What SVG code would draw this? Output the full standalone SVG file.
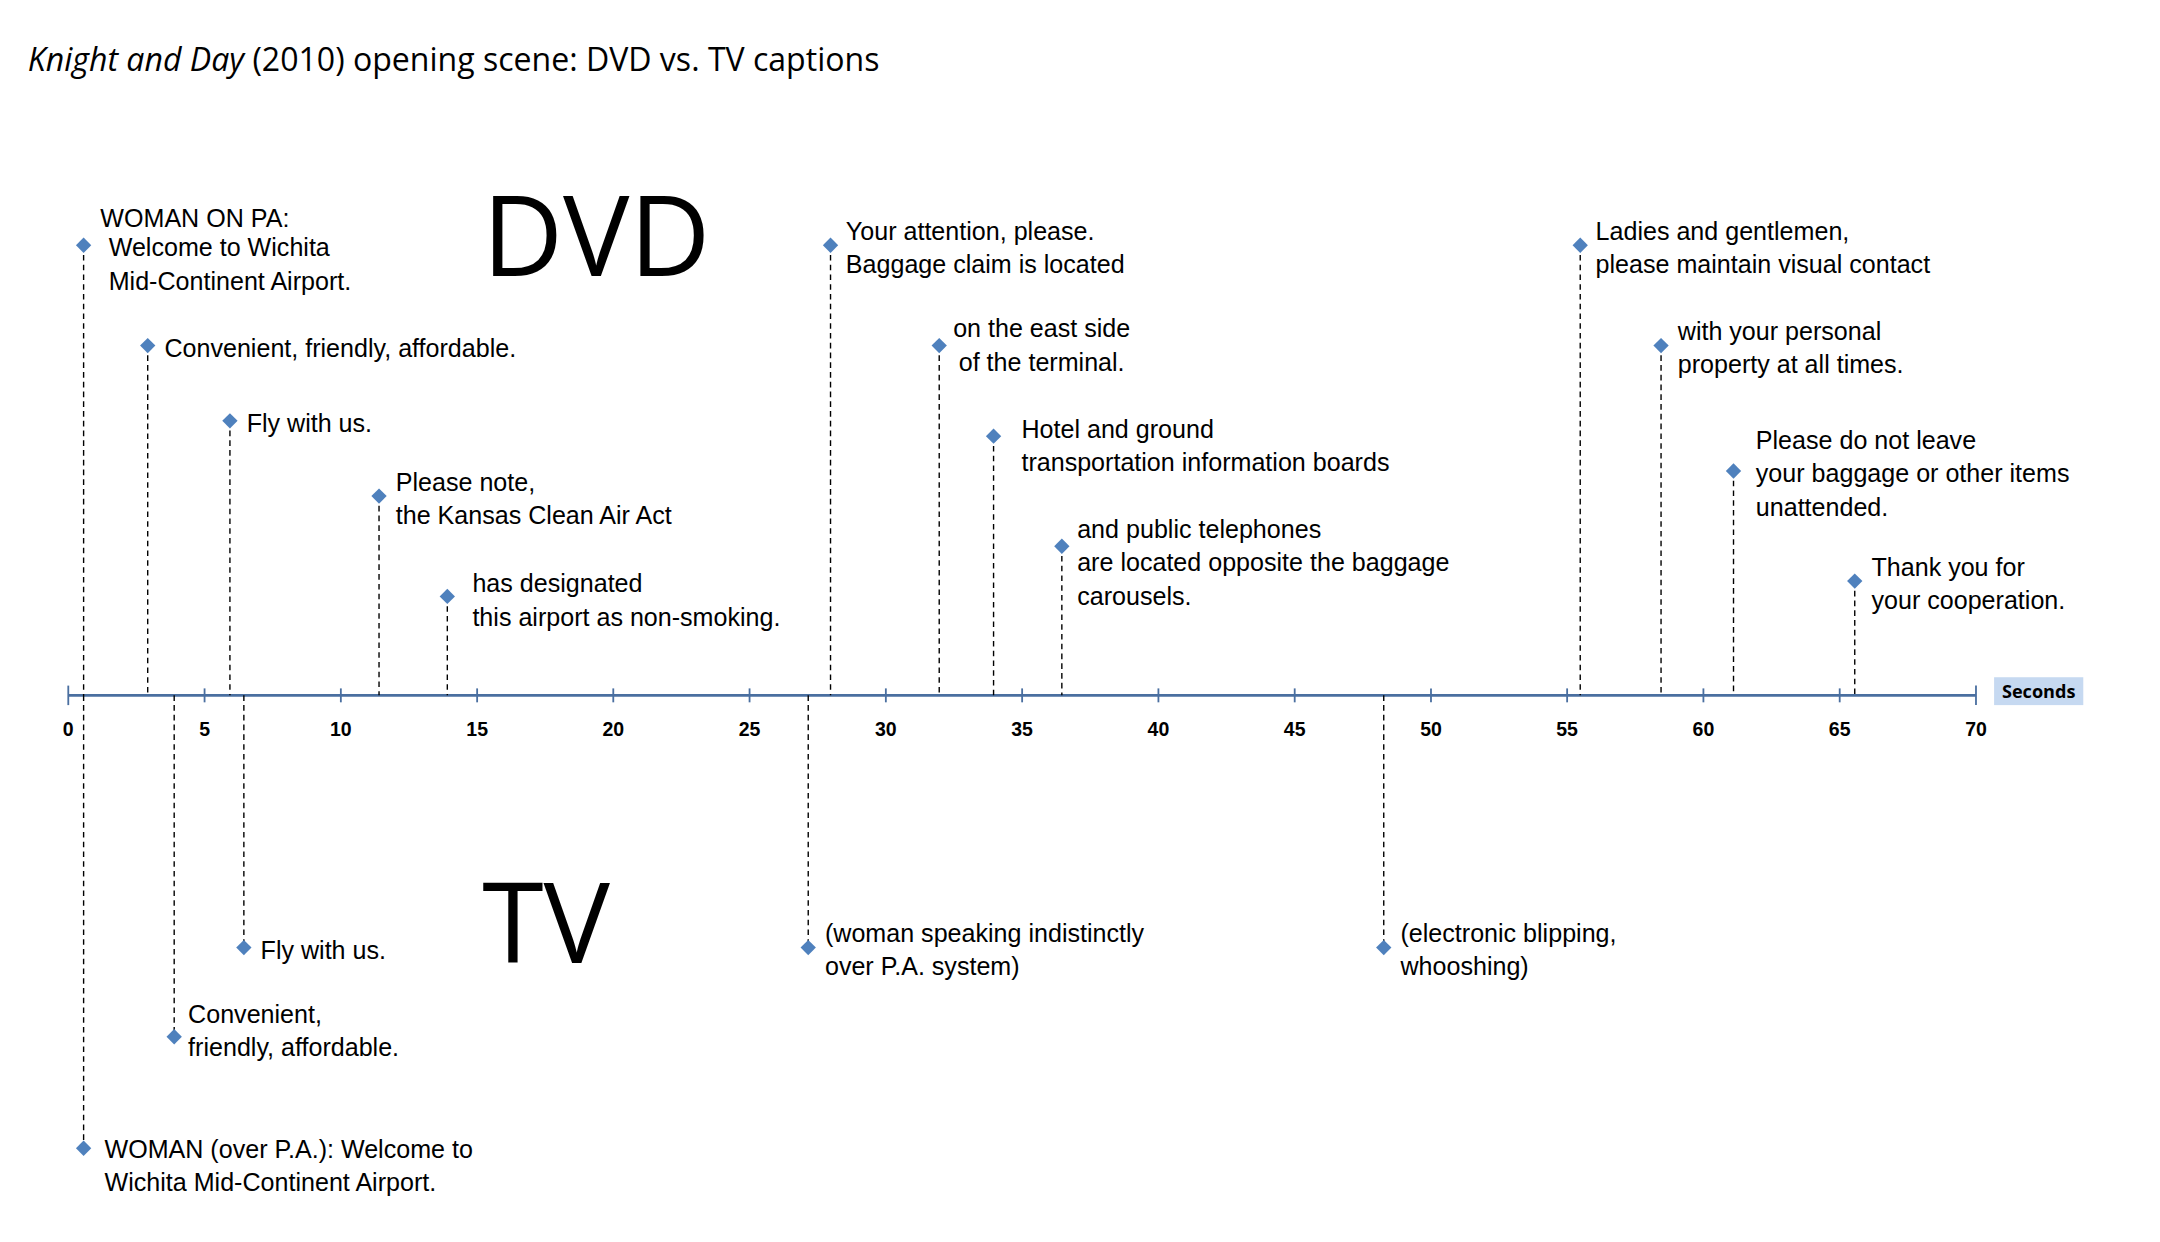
<svg xmlns="http://www.w3.org/2000/svg" width="2160" height="1242" viewBox="0 0 2160 1242">
<defs>
<style>
.t{font-family:"Liberation Sans",Arial,sans-serif;font-size:18px;fill:#000}
.n{font-family:"Liberation Sans",Arial,sans-serif;font-size:14px;font-weight:bold;fill:#000;text-anchor:middle}
.big{font-family:"Open Sans","Liberation Sans",sans-serif;font-size:80px;fill:#000}
.d{stroke:#000;stroke-width:1;stroke-dasharray:4,3;fill:none}
.tk{stroke:#4a6fa0;stroke-width:1.3}
</style>
<path id="dm" d="M0,-5.5L5.5,0L0,5.5L-5.5,0Z" fill="#4f81bd"/>
</defs>
<rect width="2160" height="1242" fill="#fff"/>
<g transform="scale(1.3935)">
<text x="20" y="51" font-family="'Open Sans','Liberation Sans',sans-serif" font-size="23"><tspan font-style="italic">Knight and Day</tspan> (2010) opening scene: DVD vs. TV captions</text>
<text class="big" x="346" y="198">DVD</text>
<text class="big" x="346" y="691">TV</text>
<g id="axis">
<line x1="49" y1="499" x2="1418" y2="499" stroke="#4a6fa0" stroke-width="2"/>
<g class="tk">
<line x1="49" y1="492" x2="49" y2="506"/><line x1="1418" y1="492" x2="1418" y2="506"/>
<line x1="146.8" y1="494" x2="146.8" y2="504"/><line x1="244.6" y1="494" x2="244.6" y2="504"/><line x1="342.4" y1="494" x2="342.4" y2="504"/><line x1="440.1" y1="494" x2="440.1" y2="504"/><line x1="537.9" y1="494" x2="537.9" y2="504"/><line x1="635.7" y1="494" x2="635.7" y2="504"/><line x1="733.5" y1="494" x2="733.5" y2="504"/><line x1="831.3" y1="494" x2="831.3" y2="504"/><line x1="929.1" y1="494" x2="929.1" y2="504"/><line x1="1026.9" y1="494" x2="1026.9" y2="504"/><line x1="1124.6" y1="494" x2="1124.6" y2="504"/><line x1="1222.4" y1="494" x2="1222.4" y2="504"/><line x1="1320.2" y1="494" x2="1320.2" y2="504"/>
</g>
<g>
<text class="n" x="49" y="528">0</text><text class="n" x="146.8" y="528">5</text><text class="n" x="244.6" y="528">10</text><text class="n" x="342.4" y="528">15</text><text class="n" x="440.1" y="528">20</text><text class="n" x="537.9" y="528">25</text><text class="n" x="635.7" y="528">30</text><text class="n" x="733.5" y="528">35</text><text class="n" x="831.3" y="528">40</text><text class="n" x="929.1" y="528">45</text><text class="n" x="1026.9" y="528">50</text><text class="n" x="1124.6" y="528">55</text><text class="n" x="1222.4" y="528">60</text><text class="n" x="1320.2" y="528">65</text><text class="n" x="1418" y="528">70</text>
</g>
<rect x="1431" y="486" width="64" height="20" fill="#c6d9f1"/>
<text x="1463" y="501" font-family="'Open Sans','Liberation Sans',sans-serif" font-size="13" font-weight="bold" text-anchor="middle">Seconds</text>
</g>
<g id="connectors">
<path class="d" d="M60,176V499M106,248V499M165,302V499M272,356V499M321,428V499M596,176V499M674,248V499M713,313V499M762,392V499M1134,176V499M1192,248V499M1244,338V499M1331,417V499M60,499V824M125,499V744M175,499V680M580,499V680M993,499V680"/>
</g>
<g id="dvd1"><use href="#dm" x="60" y="176"/><text class="t"><tspan x="72" y="163">WOMAN ON PA:</tspan><tspan x="78" y="184">Welcome to Wichita</tspan><tspan x="78" y="208">Mid-Continent Airport.</tspan></text></g>
<g id="dvd2"><use href="#dm" x="106" y="248"/><text class="t" x="118" y="256">Convenient, friendly, affordable.</text></g>
<g id="dvd3"><use href="#dm" x="165" y="302"/><text class="t" x="177" y="310">Fly with us.</text></g>
<g id="dvd4"><use href="#dm" x="272" y="356"/><text class="t"><tspan x="284" y="352">Please note,</tspan><tspan x="284" y="376">the Kansas Clean Air Act</tspan></text></g>
<g id="dvd5"><use href="#dm" x="321" y="428"/><text class="t"><tspan x="339" y="425">has designated</tspan><tspan x="339" y="449">this airport as non-smoking.</tspan></text></g>
<g id="dvd6"><use href="#dm" x="596" y="176"/><text class="t"><tspan x="607" y="172">Your attention, please.</tspan><tspan x="607" y="196">Baggage claim is located</tspan></text></g>
<g id="dvd7"><use href="#dm" x="674" y="248"/><text class="t"><tspan x="684" y="242">on the east side</tspan><tspan x="688" y="266">of the terminal.</tspan></text></g>
<g id="dvd8"><use href="#dm" x="713" y="313"/><text class="t"><tspan x="733" y="314">Hotel and ground</tspan><tspan x="733" y="338">transportation information boards</tspan></text></g>
<g id="dvd9"><use href="#dm" x="762" y="392"/><text class="t"><tspan x="773" y="386">and public telephones</tspan><tspan x="773" y="410">are located opposite the baggage</tspan><tspan x="773" y="434">carousels.</tspan></text></g>
<g id="dvd10"><use href="#dm" x="1134" y="176"/><text class="t"><tspan x="1145" y="172">Ladies and gentlemen,</tspan><tspan x="1145" y="196">please maintain visual contact</tspan></text></g>
<g id="dvd11"><use href="#dm" x="1192" y="248"/><text class="t"><tspan x="1204" y="244">with your personal</tspan><tspan x="1204" y="268">property at all times.</tspan></text></g>
<g id="dvd12"><use href="#dm" x="1244" y="338"/><text class="t"><tspan x="1260" y="322">Please do not leave</tspan><tspan x="1260" y="346">your baggage or other items</tspan><tspan x="1260" y="370">unattended.</tspan></text></g>
<g id="dvd13"><use href="#dm" x="1331" y="417"/><text class="t"><tspan x="1343" y="413">Thank you for</tspan><tspan x="1343" y="437">your cooperation.</tspan></text></g>
<g id="tv1"><use href="#dm" x="60" y="824"/><text class="t"><tspan x="75" y="831">WOMAN (over P.A.): Welcome to</tspan><tspan x="75" y="855">Wichita Mid-Continent Airport.</tspan></text></g>
<g id="tv2"><use href="#dm" x="125" y="744"/><text class="t"><tspan x="135" y="734">Convenient,</tspan><tspan x="135" y="758">friendly, affordable.</tspan></text></g>
<g id="tv3"><use href="#dm" x="175" y="680"/><text class="t" x="187" y="688">Fly with us.</text></g>
<g id="tv4"><use href="#dm" x="580" y="680"/><text class="t"><tspan x="592" y="676">(woman speaking indistinctly</tspan><tspan x="592" y="700">over P.A. system)</tspan></text></g>
<g id="tv5"><use href="#dm" x="993" y="680"/><text class="t"><tspan x="1005" y="676">(electronic blipping,</tspan><tspan x="1005" y="700">whooshing)</tspan></text></g>
</g>
</svg>
